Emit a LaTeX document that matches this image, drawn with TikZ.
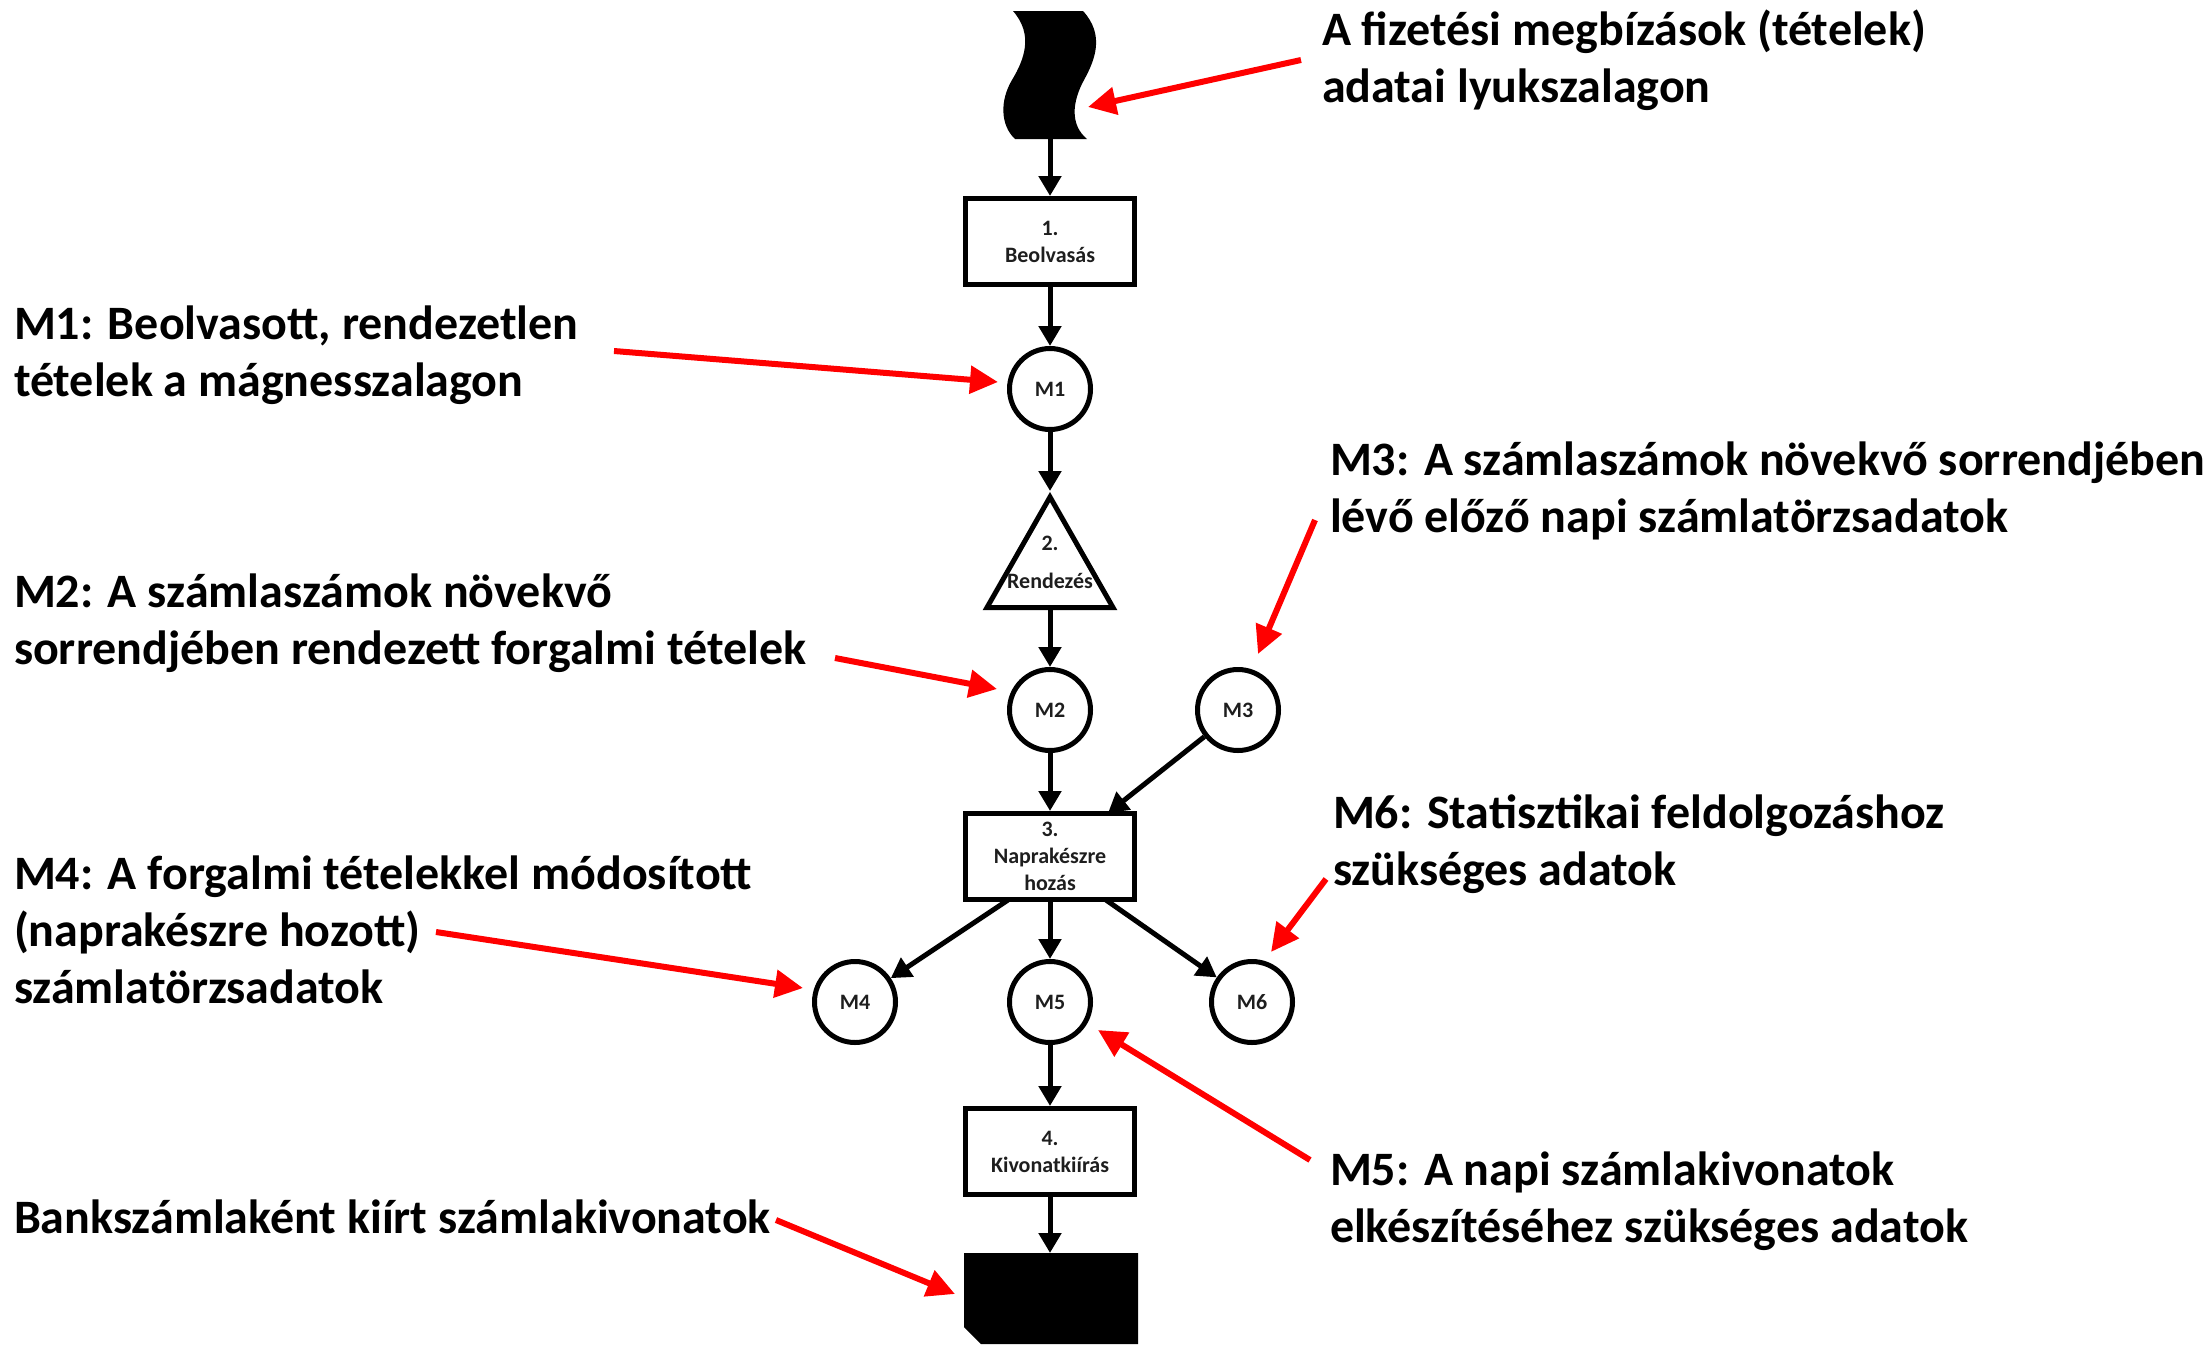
\documentclass[tikz,border=0pt]{standalone}
\usepackage{fontspec}
\setmainfont{Carlito}
\usetikzlibrary{arrows.meta}
\definecolor{arrred}{RGB}{255,0,0}
\definecolor{lbltxt}{RGB}{30,30,30}
\newcommand\firstline{\rule{0pt}{42pt}}
\begin{document}
\begin{tikzpicture}[x=1pt,y=-1pt,
  procbox/.style={draw, line width=5pt, minimum width=169pt, minimum height=86pt, inner sep=0pt, align=center, text=lbltxt, font=\fontsize{22}{27}\selectfont\bfseries},
  store/.style={circle, draw, line width=5pt, minimum size=81pt, inner sep=0pt, text=lbltxt, font=\fontsize{22}{27}\selectfont\bfseries},
  flow/.style={line width=5pt, -{Triangle[length=20pt,width=22pt]}},
  redarr/.style={draw=arrred, line width=6pt, -{Triangle[length=28pt,width=27pt]}, fill=arrred},
  note/.style={anchor=north west, inner sep=0pt, outer sep=0pt, align=left, font=\fontsize{48}{57}\selectfont\bfseries}
]
\useasboundingbox (0,0) rectangle (2205,1344);

% punched tape
\fill (1013,11) -- (1083,11)
  .. controls (1105,35) and (1095,60) .. (1084,80)
  .. controls (1072,102) and (1070,125) .. (1087,139)
  -- (1015,139)
  .. controls (1000,125) and (1000,100) .. (1012,80)
  .. controls (1024,60) and (1034,35) .. cycle;
\coordinate (tapeB) at (1050,139);

% processes
\node[procbox] (b1) at (1050,241.5) {1.\\Beolvasás};
\node[store] (m1) at (1050,389) {M1};
\draw[line width=5pt, line join=miter] (1050,497) -- (1113,607.5) -- (987,607.5) -- cycle;
\coordinate (triTop) at (1050,491);
\coordinate (triBot) at (1050,610);
\node[align=center, inner sep=0pt, text=lbltxt, font=\fontsize{22}{38}\selectfont\bfseries] (t2) at (1050,562) {2.\\Rendezés};
\node[store] (m2) at (1050,710) {M2};
\node[store] (m3) at (1238,710) {M3};
\node[procbox] (b3) at (1050,856.5) {3.\\Naprakészre\\hozás};
\coordinate (b3in) at (1108,813);
\coordinate (b3l) at (1008,900);
\coordinate (b3r) at (1106,900);
\node[store] (m4) at (855,1002) {M4};
\node[store] (m5) at (1050,1002) {M5};
\node[store] (m6) at (1252,1002) {M6};
\node[procbox] (b4) at (1050,1151.5) {4.\\Kivonatkiírás};

% output card
\fill (964,1253) -- (1138,1253) -- (1138,1344) -- (981,1344) -- (964,1327) -- cycle;
\coordinate (cardT) at (1050,1253);

% flows
\draw[flow] (tapeB) -- (b1);
\draw[flow] (b1) -- (m1);
\draw[flow] (m1) -- (triTop);
\draw[flow] (triBot) -- (m2);
\draw[flow] (m2) -- (b3);
\draw[flow] (m3) -- (b3in);
\draw[flow] (b3l) -- (m4);
\draw[flow] (b3) -- (m5);
\draw[flow] (b3r) -- (m6);
\draw[flow] (m5) -- (b4);
\draw[flow] (b4) -- (cardT);

% annotations
\node[note] (tTape) at (1322,3) {\firstline A fizetési megbízások (tételek)\\adatai lyukszalagon};
\node[note] (tM1) at (14,297) {\firstline M1: Beolvasott, rendezetlen\\tételek a mágnesszalagon};
\node[note] (tM3) at (1330,433) {\firstline M3: A számlaszámok növekvő sorrendjében\\lévő előző napi számlatörzsadatok};
\node[note] (tM2) at (14,565) {\firstline M2: A számlaszámok növekvő\\sorrendjében rendezett forgalmi tételek};
\node[note] (tM6) at (1333,786) {\firstline M6: Statisztikai feldolgozáshoz\\szükséges adatok};
\node[note] (tM4) at (14,847) {\firstline M4: A forgalmi tételekkel módosított\\(naprakészre hozott)\\számlatörzsadatok};
\node[note] (tM5) at (1330,1143) {\firstline M5: A napi számlakivonatok\\elkészítéséhez szükséges adatok};
\node[note] (tBank) at (14,1191) {\firstline Bankszámlaként kiírt számlakivonatok};

% red pointer arrows
\coordinate (s1) at (1301,60);   \coordinate (e1) at (1088,107);
\coordinate (s2) at (614,351);   \coordinate (e2) at (998,382);
\coordinate (s3) at (835,658);   \coordinate (e3) at (997,689);
\coordinate (s4) at (1315,520);  \coordinate (e4) at (1258,654);
\coordinate (s5) at (436,932);   \coordinate (e5) at (803,988);
\coordinate (s6) at (1326,879);  \coordinate (e6) at (1271,952);
\coordinate (s7) at (1310,1160); \coordinate (e7) at (1098,1030);
\coordinate (s8) at (776,1220);  \coordinate (e8) at (955,1294);
\foreach \i in {1,...,8} { \draw[redarr] (s\i) -- (e\i); }
\end{tikzpicture}
\end{document}
